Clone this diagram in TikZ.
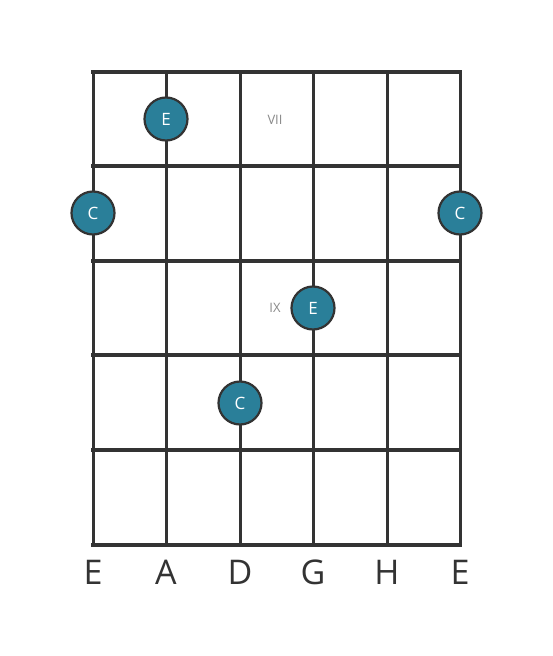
\documentclass[tikz,border=0pt]{standalone}
\usepackage{fontspec}
\setmainfont{Open Sans}
\definecolor{dotfill}{HTML}{2A7F99}
\definecolor{linecol}{HTML}{333333}
\definecolor{roman}{HTML}{8A8A8A}
\tikzset{
  fret/.style={draw=linecol,line width=4.8pt},
  stringline/.style={draw=linecol,line width=3pt},
  dot/.style={circle,fill=dotfill,draw=linecol,line width=2.2pt,minimum size=43pt,inner sep=0pt,text=white,font=\fontsize{17}{17}\selectfont},
  strlabel/.style={text=linecol,font=\fontsize{34}{34}\selectfont,inner sep=0pt},
  romanlabel/.style={text=roman,font=\fontsize{13}{13}\selectfont,inner sep=0pt}
}
\begin{document}
\begin{tikzpicture}[x=1pt,y=-1pt]
\useasboundingbox[fill=white] (0,0) rectangle (553,656);
\foreach \i/\x in {0/93,1/166,2/240,3/313,4/387,5/460}{
  \coordinate (st\i) at (\x,72);
  \coordinate (sb\i) at (\x,545);
  \draw[stringline] (st\i) -- (sb\i);
}
\foreach \j/\y in {0/72,1/166,2/261,3/355,4/450,5/545}{
  \coordinate (fl\j) at (93,\y);
  \coordinate (fr\j) at (460,\y);
  \draw[fret,line cap=rect] (fl\j) -- (fr\j);
}
\node[romanlabel] (vii) at (275,120) {VII};
\node[romanlabel] (ix) at (275,308) {IX};
\node[dot] (d1) at (166,119) {E};
\node[dot] (d2) at (93,213) {C};
\node[dot] (d3) at (460,213) {C};
\node[dot] (d4) at (313,308) {E};
\node[dot] (d5) at (240,403) {C};
\node[strlabel] (l0) at (93,572) {E};
\node[strlabel] (l1) at (166,572) {A};
\node[strlabel] (l2) at (240,572) {D};
\node[strlabel] (l3) at (313,572) {G};
\node[strlabel] (l4) at (387,572) {H};
\node[strlabel] (l5) at (460,572) {E};
\end{tikzpicture}
\end{document}
